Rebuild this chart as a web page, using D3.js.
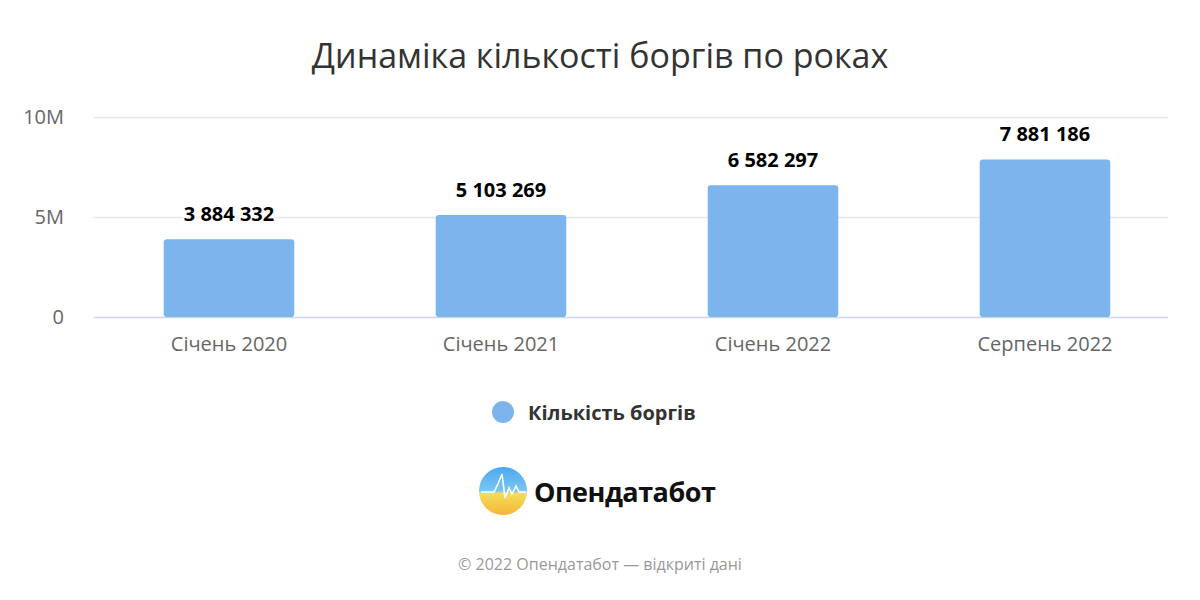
<!DOCTYPE html>
<html>
<head>
<meta charset="utf-8">
<script src="https://cdn.jsdelivr.net/npm/d3@7"></script>
<style>
  body { margin: 0; background: #fff; }
  text { font-family: "Segoe UI", "Open Sans", "Noto Sans", sans-serif; }
</style>
</head>
<body>
<svg id="chart" width="1200" height="600"></svg>
<script>
// chart data
var categories = ['Січень 2020', 'Січень 2021', 'Січень 2022', 'Серпень 2022'];
var values = [3884332, 5103269, 6582297, 7881186];
var yTicks = [0, 5000000, 10000000];
var yTickLabels = ['0', '5M', '10M'];

var svg = d3.select('#chart');
var plotLeft = 94, plotRight = 1168, plotTop = 117, plotBottom = 317;

// band step 272 so the bars sit where the reference has them
var x = d3.scaleBand().domain(categories).range([93, 1181]).paddingInner(0.52).paddingOuter(0.26);
var y = d3.scaleLinear().domain([0, 10000000]).range([plotBottom, plotTop]);

svg.append('text')
    .attr('x', 600).attr('y', 68)
    .attr('text-anchor', 'middle')
    .style('font-size', '34px')
    .style('fill', '#333')
    .text('Динаміка кількості боргів по роках');

// gridlines
svg.append('g').selectAll('line')
    .data(yTicks)
    .enter().append('line')
    .attr('x1', plotLeft).attr('x2', plotRight)
    .attr('y1', function(d) { return y(d) + 0.5; })
    .attr('y2', function(d) { return y(d) + 0.5; })
    .style('stroke', function(d) { return d === 0 ? '#ccd6eb' : '#e6e6e6'; })
    .style('stroke-width', 1.5);

var yAxis = d3.axisLeft(y).tickValues(yTicks)
    .tickFormat(function(d, i) { return yTickLabels[i]; })
    .tickSize(0).tickPadding(30);
var ya = svg.append('g').attr('transform', 'translate(' + plotLeft + ',0)').call(yAxis);
ya.select('.domain').remove();
ya.selectAll('text').style('font-size', '20px').style('fill', '#666');

var xAxis = d3.axisBottom(x).tickSize(0).tickPadding(20);
var xa = svg.append('g').attr('transform', 'translate(0,' + plotBottom + ')').call(xAxis);
xa.select('.domain').remove();
xa.selectAll('text').style('font-size', '20px').style('fill', '#666');

svg.append('g').selectAll('rect')
    .data(values)
    .enter().append('rect')
    .attr('x', function(d, i) { return x(categories[i]); })
    .attr('y', function(d) { return y(d); })
    .attr('width', x.bandwidth())
    .attr('height', function(d) { return plotBottom - y(d); })
    .attr('rx', 3)
    .style('fill', '#7cb5ec');

var fmt = function(v) { return d3.format(',')(v).replace(/,/g, ' '); };
svg.append('g').selectAll('text')
    .data(values)
    .enter().append('text')
    .attr('x', function(d, i) { return x(categories[i]) + x.bandwidth() / 2; })
    .attr('y', function(d) { return y(d) - 18; })
    .attr('text-anchor', 'middle')
    .style('font-size', '20px').style('font-weight', 'bold').style('fill', '#000')
    .style('stroke', '#fff').style('stroke-width', 3).style('paint-order', 'stroke')
    .text(fmt);

// legend
svg.append('circle').attr('cx', 503).attr('cy', 412).attr('r', 11).style('fill', '#7cb5ec');
svg.append('text').attr('x', 528).attr('y', 420)
    .style('font-size', '20px').style('font-weight', 'bold').style('fill', '#333')
    .text('Кількість боргів');

// logo
var defs = svg.append('defs');
var grad = defs.append('linearGradient').attr('id', 'logoGrad')
    .attr('x1', 0).attr('y1', 0).attr('x2', 0).attr('y2', 1);
grad.append('stop').attr('offset', '0%').style('stop-color', '#4aa8f0');
grad.append('stop').attr('offset', '50%').style('stop-color', '#7cc6f0');
grad.append('stop').attr('offset', '55%').style('stop-color', '#f5dc5a');
grad.append('stop').attr('offset', '100%').style('stop-color', '#f2b834');
svg.append('circle').attr('cx', 503).attr('cy', 491).attr('r', 24).style('fill', 'url(#logoGrad)');
svg.append('path')
    .attr('d', 'M481,492 L494,492 L498,484 L502,474 L505,498 L509,488 L512,494 L516,486 L519,492 L526,492')
    .style('fill', 'none').style('stroke', '#fff').style('stroke-width', 1.6);
svg.append('text').attr('x', 534).attr('y', 502)
    .style('font-size', '27px').style('font-weight', 'bold').style('fill', '#111')
    .style('letter-spacing', '-0.5px')
    .text('Опендатабот');

svg.append('text').attr('x', 600).attr('y', 570)
    .attr('text-anchor', 'middle')
    .style('font-size', '16px').style('fill', '#999')
    .text('© 2022 Опендатабот — відкриті дані');
</script>
</body>
</html>
